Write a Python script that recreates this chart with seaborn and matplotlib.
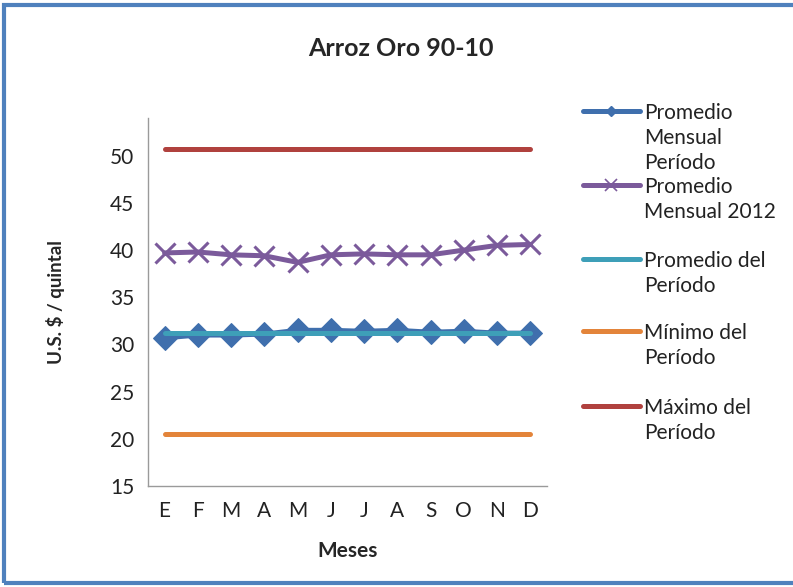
import numpy as np
import pandas as pd
import matplotlib.pyplot as plt
import seaborn as sns
from matplotlib.lines import Line2D
from matplotlib.patches import Rectangle

# Datos
meses = ["E", "F", "M", "A", "M", "J", "J", "A", "S", "O", "N", "D"]
promedio_mensual_periodo = [30.7, 31.0, 31.0, 31.1, 31.5, 31.5, 31.4, 31.5, 31.3, 31.4, 31.2, 31.2]
promedio_mensual_2012 = [39.7, 39.8, 39.5, 39.4, 38.7, 39.5, 39.6, 39.5, 39.5, 40.0, 40.5, 40.6]
promedio_periodo = [31.2] * 12
minimo_periodo = [20.5] * 12
maximo_periodo = [50.7] * 12

etiquetas = ["Promedio\nMensual\nPeríodo", "Promedio\nMensual 2012",
             "Promedio del\nPeríodo", "Mínimo del\nPeríodo", "Máximo del\nPeríodo"]
colores = ["#3F6FAD", "#7B5A9B", "#3E9FB8", "#E3843A", "#B0413E"]

sns.set_style("white")
plt.rcParams['font.family'] = ['Lato', 'DejaVu Sans']

x = np.arange(len(meses))
fig = plt.figure(figsize=(7.93, 5.87), dpi=100)
ax = fig.add_axes([0.1866, 0.172, 0.503, 0.627])

# Series
sns.lineplot(x=x, y=maximo_periodo, color=colores[4], lw=3.6, ax=ax, solid_capstyle="round")
sns.lineplot(x=x, y=minimo_periodo, color=colores[3], lw=3.6, ax=ax, solid_capstyle="round")
sns.lineplot(x=x, y=promedio_mensual_2012, color=colores[1], lw=3.6, ax=ax,
             marker="x", markersize=15, markeredgewidth=2.2, markeredgecolor=colores[1])
sns.lineplot(x=x, y=promedio_mensual_periodo, color=colores[0], lw=3.6, ax=ax,
             marker="D", markersize=12, markeredgecolor=colores[0])
sns.lineplot(x=x, y=promedio_periodo, color=colores[2], lw=3.6, ax=ax, solid_capstyle="round")

# Ejes
ax.set_xlim(-0.5, 11.5)
ax.set_ylim(15, 54)
ax.set_yticks(range(15, 55, 5))
ax.set_xticks(x)
ax.set_xticklabels(meses)
ax.set_xticks(np.arange(-0.5, 12, 1), minor=True)
ax.tick_params(axis="x", which="major", length=0, pad=11, labelsize=15, colors="#222222")
ax.tick_params(axis="x", which="minor", length=6, width=1, color="#9a9a9a", direction="out")
ax.tick_params(axis="y", length=6, width=1, color="#9a9a9a", direction="out", labelsize=15,
               labelcolor="#222222", pad=4)
for s in ["top", "right"]:
    ax.spines[s].set_visible(False)
for s in ["left", "bottom"]:
    ax.spines[s].set_color("#9a9a9a")
    ax.spines[s].set_linewidth(1)

ax.set_xlabel("Meses", fontsize=15, fontweight="bold", labelpad=14)
ax.set_ylabel("U.S. $ / quintal", fontsize=13.5, fontweight="bold", labelpad=32)
fig.text(0.505, 0.918, "Arroz Oro 90-10", ha="center", va="center", fontsize=18, fontweight="bold")

# Leyenda manual (texto en varias lineas, simbolo alineado a la primera linea)
y_leyenda = [111, 185, 259, 331, 406]
for i, (lab, col, yp) in enumerate(zip(etiquetas, colores, y_leyenda)):
    yf = 1 - yp / 587
    fig.add_artist(Line2D([583 / 793, 640 / 793], [yf, yf], color=col, lw=3.6,
                          solid_capstyle="round"))
    if i == 0:
        fig.add_artist(Line2D([611 / 793], [yf], lw=0, marker="D", markersize=5,
                              markerfacecolor=col, markeredgecolor=col))
    elif i == 1:
        fig.add_artist(Line2D([611 / 793], [yf], lw=0, marker="x", markersize=8,
                              markeredgewidth=1.2, markeredgecolor=col))
    fig.text(644 / 793, yf + 8 / 587, lab, ha="left", va="top", fontsize=15,
             color="#222222", linespacing=1.32)

# Marco del grafico
fig.add_artist(Rectangle((0.005, 0.006), 1.2, 0.986, transform=fig.transFigure,
                         fill=False, edgecolor="#4F81BD", lw=3))

fig.savefig("out.png", dpi=100)
